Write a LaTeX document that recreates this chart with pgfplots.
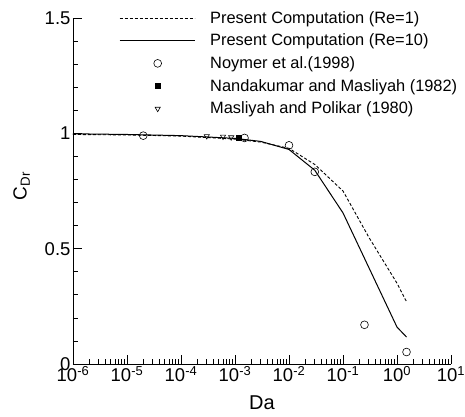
\documentclass[border=0pt]{standalone}
\usepackage{fontspec}
\setmainfont{Liberation Sans}
\usepackage{pgfplots}
\pgfplotsset{compat=1.18}
\pgfplotsset{
  longline legend/.style={legend image code/.code={\draw[##1] (0pt,0pt) -- (75pt,0pt);}},
  mark legend/.style={legend image code/.code={\draw[mark repeat=2,mark phase=2,##1] plot coordinates {(0pt,0pt) (38pt,0pt) (76pt,0pt)};}},
}
\begin{document}
\begin{tikzpicture}
\begin{axis}[
  scale only axis, width=378pt, height=346pt,
  xmode=log, xmin=1e-6, xmax=10, ymin=0, ymax=1.5,
  axis lines=left, axis line style={-, line width=0.9pt},
  tick align=inside,
  major tick length=9pt, minor tick length=5pt,
  every tick/.style={black, line width=0.7pt},
  xtick={1e-6,1e-5,1e-4,1e-3,1e-2,1e-1,1,10},
  xticklabels={10\textsuperscript{-6},10\textsuperscript{-5},10\textsuperscript{-4},10\textsuperscript{-3},10\textsuperscript{-2},10\textsuperscript{-1},10\textsuperscript{0},10\textsuperscript{1}},
  ytick={0,0.5,1,1.5},
  yticklabels={0,0.5,1,1.5},
  minor y tick num=4,
  /pgf/number format/assume math mode=true,
  tick label style={font=\fontsize{18.5}{20}\selectfont},
  xticklabel style={yshift=1pt},
  yticklabel style={xshift=1pt},
  xlabel={Da},
  ylabel={C\textsubscript{Dr}},
  xlabel style={font=\fontsize{20}{22}\selectfont, at={(rel axis cs:0.5,-0.111)}, anchor=center},
  ylabel style={font=\fontsize{19}{21}\selectfont, at={(rel axis cs:-0.136,0.514)}, anchor=center},
  legend style={draw=none, fill=none, at={(rel axis cs:0.1217,1.0257)}, anchor=north west,
    font=\fontsize{16.4}{19}\selectfont, row sep=5.3pt, column sep=13pt, inner sep=0pt},
  legend cell align=left,
  clip=false,
]
\addplot[black, densely dashed, line width=0.9pt, longline legend]
  coordinates {(1e-6,0.995) (1e-5,0.993) (1e-4,0.988) (1e-3,0.975) (3e-3,0.962) (1e-2,0.935) (3e-2,0.865) (0.1,0.75) (0.3,0.55) (1,0.35) (1.5,0.27)};
\addlegendentry{Present Computation (Re=1)}
\addplot[black, solid, line width=1pt, longline legend]
  coordinates {(1e-6,0.998) (1e-5,0.995) (1e-4,0.99) (1e-3,0.978) (3e-3,0.965) (1e-2,0.93) (3e-2,0.84) (0.1,0.655) (1,0.16) (1.5,0.117)};
\addlegendentry{Present Computation (Re=10)}
\addplot[only marks, mark=o, mark size=3.9pt, black, line width=0.6pt, mark legend]
  coordinates {(2e-5,0.99) (1.5e-3,0.98) (1e-2,0.948) (0.03,0.833) (0.25,0.17) (1.5,0.052)};
\addlegendentry[mark size=2.6pt]{Noymer et al.(1998)}
\addplot[only marks, mark=square*, mark size=2.5pt, black, mark legend]
  coordinates {(1.15e-3,0.98)};
\addlegendentry{Nandakumar and Masliyah (1982)}
\addplot[only marks, mark=triangle, mark options={rotate=180}, mark size=3pt, black, line width=0.6pt, mark legend]
  coordinates {(3e-4,0.988) (6e-4,0.986) (8.5e-4,0.983)};
\addlegendentry{Masliyah and Polikar (1980)}
\coordinate (bbl) at (rel axis cs:-0.1931,-0.1503);
\coordinate (btr) at (rel axis cs:1.0370,1.0520);
\end{axis}
\pgfresetboundingbox
\useasboundingbox (bbl) rectangle (btr);
\end{tikzpicture}
\end{document}
